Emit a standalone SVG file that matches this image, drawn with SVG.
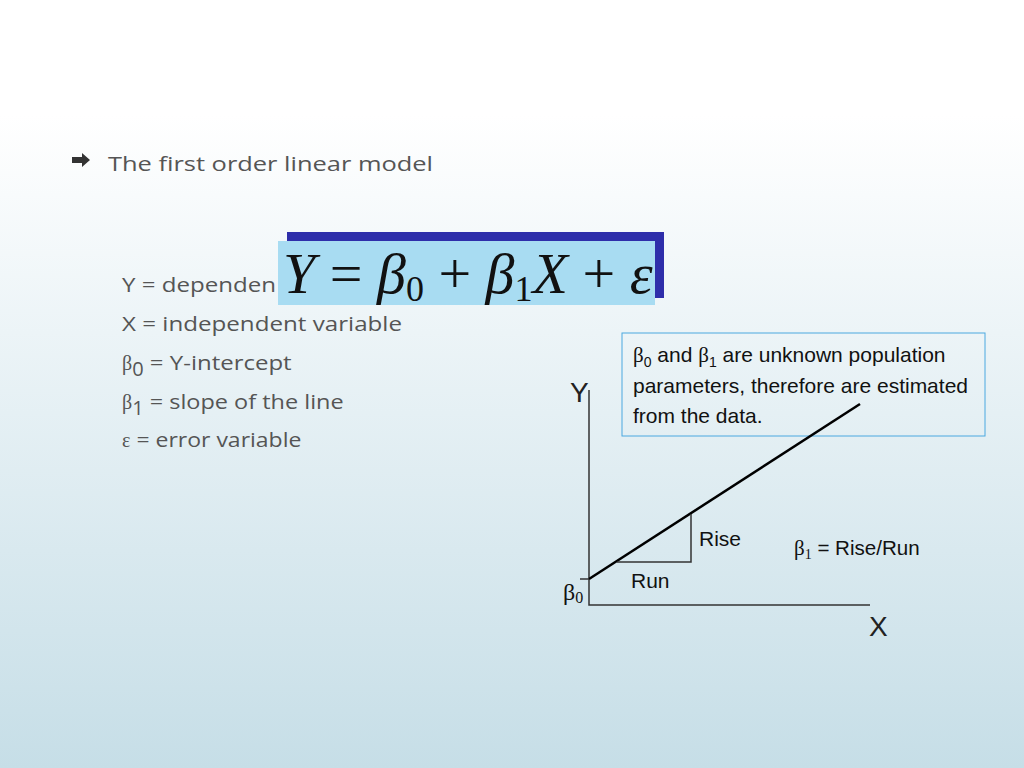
<svg xmlns="http://www.w3.org/2000/svg" width="1024" height="768" viewBox="0 0 1024 768">
<defs><linearGradient id="bg" x1="0" y1="0" x2="0" y2="1"><stop offset="0" stop-color="#ffffff"/><stop offset="0.15" stop-color="#ffffff"/><stop offset="1" stop-color="#c6dee7"/></linearGradient></defs>
<style>
.t{font-family:"Open Sans","DejaVu Sans",sans-serif;font-size:20px;fill:#555}
.a{font-family:"Liberation Sans",Arial,sans-serif;fill:#111}
.m{font-family:"Liberation Serif","Times New Roman",serif;fill:#111}
.ln{stroke:#333;stroke-width:1.5;fill:none}
</style>
<rect width="1024" height="768" fill="url(#bg)"/>
<g id="bullet"><path d="M72 157h10v-4l8 7-8 7v-4h-10z" fill="#333"/><text class="t" x="108" y="171" font-size="23" textLength="325" lengthAdjust="spacingAndGlyphs">The first order linear model</text></g>
<g id="defs-text">
<text class="t" x="122" y="292" textLength="154" lengthAdjust="spacingAndGlyphs">Y = dependen</text>
<text class="t" x="122" y="331" textLength="280" lengthAdjust="spacingAndGlyphs">X = independent variable</text>
<text class="t" x="122" y="370"><tspan class="m" style="fill:#555">β</tspan><tspan dy="6">0</tspan><tspan dy="-6" textLength="148" lengthAdjust="spacingAndGlyphs"> = Y-intercept</tspan></text>
<text class="t" x="122" y="409"><tspan class="m" style="fill:#555">β</tspan><tspan dy="6">1</tspan><tspan dy="-6" textLength="200" lengthAdjust="spacingAndGlyphs"> = slope of the line</tspan></text>
<text class="t" x="122" y="447"><tspan class="m" style="fill:#555">ε</tspan><tspan textLength="171" lengthAdjust="spacingAndGlyphs"> = error variable</tspan></text>
</g>
<g id="equation">
<rect x="287" y="232" width="377" height="66" fill="#2e2eaa"/>
<rect x="278" y="241" width="377" height="64" fill="#a8dcf2"/>
<text class="m" x="283" y="293" font-size="58" font-style="italic">Y<tspan font-style="normal"> = </tspan>β<tspan font-style="normal" font-size="36" dy="8">0</tspan><tspan font-style="normal" dy="-8"> + </tspan>β<tspan font-style="normal" font-size="36" dy="8">1</tspan><tspan dy="-8">X</tspan><tspan font-style="normal"> + </tspan>ε</text>
</g>
<g id="note">
<rect x="622" y="333" width="363" height="103" fill="none" stroke="#4aa8e0" stroke-width="1"/>
<text class="a" x="633" y="362" font-size="21"><tspan class="m">β</tspan><tspan font-size="14" dy="5">0</tspan><tspan dy="-5"> and </tspan><tspan class="m">β</tspan><tspan font-size="14" dy="5">1</tspan><tspan dy="-5"> are unknown population</tspan></text>
<text class="a" x="633" y="393" font-size="21">parameters, therefore are estimated</text>
<text class="a" x="633" y="423" font-size="21">from the data.</text>
</g>
<g id="connectors">
<path class="ln" d="M589 390V605H870"/>
<path d="M589 579L860 404" stroke="#000" stroke-width="2.5"/>
<path class="ln" d="M617 562H691V514"/>
<path class="ln" d="M580 579H589"/>
</g>
<g id="labels">
<text class="a" x="570" y="402" font-size="28" style="fill:#222">Y</text>
<text class="a" x="869" y="636" font-size="28" style="fill:#222">X</text>
<text class="a" x="699" y="546" font-size="21">Rise</text>
<text class="a" x="631" y="588" font-size="21">Run</text>
<text class="m" x="563" y="600" font-size="24">β<tspan font-size="16" dy="3">0</tspan></text>
<text class="a" x="794" y="555" font-size="21"><tspan class="m">β</tspan><tspan class="m" font-size="14" dy="4">1</tspan><tspan dy="-4" textLength="108" lengthAdjust="spacingAndGlyphs"> = Rise/Run</tspan></text>
</g>
</svg>
